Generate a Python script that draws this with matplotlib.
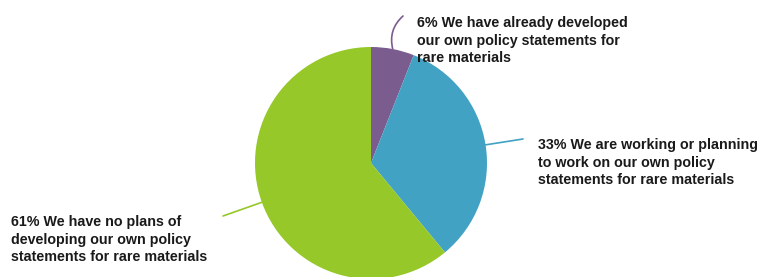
import numpy as np
import matplotlib
matplotlib.use("Agg")
import matplotlib.pyplot as plt

labels = ["We have already developed\nour own policy statements for\nrare materials",
          "We are working or planning\nto work on our own policy\nstatements for rare materials",
          "We have no plans of\ndeveloping our own policy\nstatements for rare materials"]
values = [6, 33, 61]
colors = ["#7B5C8E", "#41A2C3", "#95C828"]

W, H = 765, 277
fig = plt.figure(figsize=(W / 100, H / 100), dpi=100)
ax = fig.add_axes([0, 0, 1, 1])

cx, cy, r = 371, H - 163, 116
wedges, _ = ax.pie(values, colors=colors, startangle=90, counterclock=False,
                   center=(cx, cy), radius=r, frame=True,
                   wedgeprops=dict(linewidth=0))
ax.set_xlim(0, W)
ax.set_ylim(0, H)
ax.set_aspect("equal")
ax.axis("off")

# label last-line baseline positions (pixel coords) and leader end points
text_pos = [(417, 62), (538, 184), (11, 261)]
line_end = [(403, 16), (523, 139), (223, 216)]
rads = [-0.3, 0.0, 0.0]
for w, lab, v, col, tp, le, rad in zip(wedges, labels, values, colors, text_pos, line_end, rads):
    ang = np.deg2rad((w.theta1 + w.theta2) / 2)
    sx = cx + r * np.cos(ang)
    sy = cy + r * np.sin(ang)
    ax.annotate("", xy=(le[0], H - le[1]), xytext=(sx, sy),
                arrowprops=dict(arrowstyle="-", color=col, lw=1.2,
                                connectionstyle=f"arc3,rad={rad}",
                                shrinkA=0, shrinkB=0))
    ax.text(tp[0], H - tp[1], f"{v}% {lab}", ha="left", va="baseline",
            fontsize=10.3, fontweight="bold", family="Liberation Sans",
            color="#1a1a1a", linespacing=1.3)

fig.savefig("out.png", dpi=100)
